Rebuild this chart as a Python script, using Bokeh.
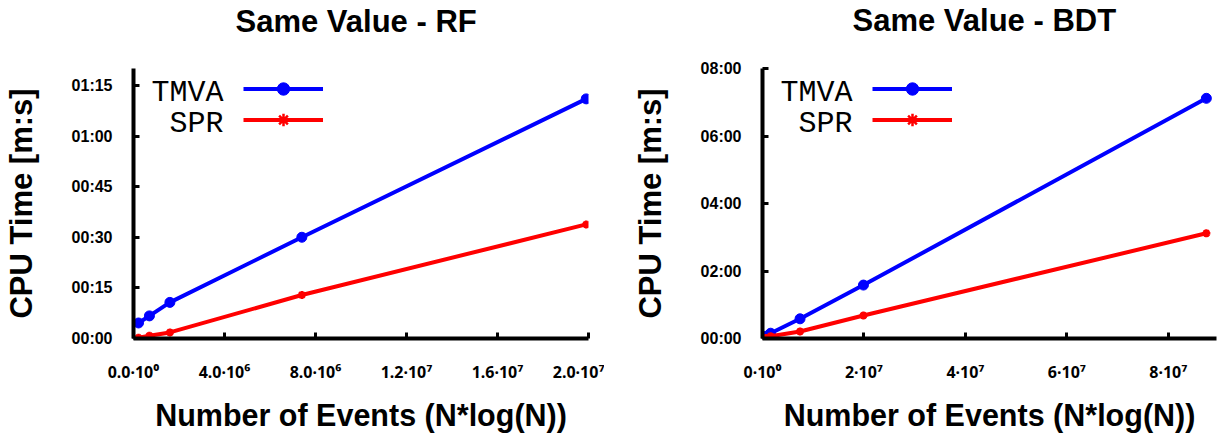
from bokeh.plotting import figure
from bokeh.models import Range1d, FixedTicker, Legend, LegendItem, Label, Title
from bokeh.layouts import row
from bokeh.embed import file_html
from bokeh.resources import INLINE

# ---------------- data ----------------
rf_title = "Same Value - RF"
rf_x = [0.22e6, 0.70e6, 1.6e6, 7.4e6, 19.9e6]          # N*log(N)
rf_tmva = [4.6, 6.7, 10.7, 30.0, 71.0]                  # seconds
rf_spr = [0.2, 0.8, 1.8, 12.9, 33.8]                    # seconds
rf_xticks = [0, 4e6, 8e6, 1.2e7, 1.6e7, 2.0e7]
rf_xlabels = ["0.0·10⁰", "4.0·10⁶", "8.0·10⁶", "1.2·10⁷", "1.6·10⁷", "2.0·10⁷"]
rf_yticks = [0, 15, 30, 45, 60, 75]
rf_ylabels = ["00:00", "00:15", "00:30", "00:45", "01:00", "01:15"]

bdt_title = "Same Value - BDT"
bdt_x = [0.22e6, 0.70e6, 1.6e6, 7.4e6, 19.9e6, 87.5e6]
bdt_tmva = [1.5, 4.0, 9.4, 35.0, 95.0, 427.0]
bdt_spr = [0.3, 1.0, 4.0, 12.5, 41.0, 187.0]
bdt_xticks = [0, 2e7, 4e7, 6e7, 8e7]
bdt_xlabels = ["0·10⁰", "2·10⁷", "4·10⁷", "6·10⁷", "8·10⁷"]
bdt_yticks = [0, 120, 240, 360, 480]
bdt_ylabels = ["00:00", "02:00", "04:00", "06:00", "08:00"]

series_names = ["TMVA", "SPR"]
x_label = "Number of Events (N*log(N))"
y_label = "CPU Time [m:s]"

BLUE = "#0000ff"
RED = "#ff0000"
SANS = "Liberation Sans"
MONO = "Liberation Mono"


def make_panel(title, xs, tmva, spr, xticks, xlabels, yticks, ylabels,
               xend, yend, width, border_left, border_right, title_offset, spacer_standoff):
    p = figure(width=width, height=438, output_backend="svg", toolbar_location=None,
               x_range=Range1d(0, xend), y_range=Range1d(0, yend),
               min_border_left=border_left, min_border_right=border_right,
               min_border_top=67, min_border_bottom=100)
    p.outline_line_color = None
    p.grid.visible = False
    p.background_fill_color = "white"
    p.border_fill_color = "white"

    # spacer (closest to the frame) followed by the real title above it
    p.add_layout(Title(text=" ", text_font_size="18px", standoff=spacer_standoff), "above")
    p.add_layout(Title(text=title, text_font=SANS, text_font_style="bold",
                       text_font_size="31px", text_color="black", align="left",
                       offset=title_offset, standoff=0), "above")

    for ax in (p.xaxis[0], p.yaxis[0]):
        ax.axis_line_width = 4
        ax.axis_line_color = "black"
        ax.major_tick_line_width = 3
        ax.major_tick_in = 6
        ax.major_tick_out = 0
        ax.minor_tick_line_color = None
        ax.major_label_text_font = SANS
        ax.major_label_text_font_style = "bold"
        ax.major_label_text_font_size = "16px"
        ax.major_label_text_color = "black"
        ax.axis_label_text_font = SANS
        ax.axis_label_text_font_style = "bold"
        ax.axis_label_text_color = "black"

    p.xaxis.ticker = FixedTicker(ticks=xticks)
    p.xaxis.major_label_overrides = {t: l for t, l in zip(xticks, xlabels)}
    p.xaxis.major_label_text_font = "Noto Sans"
    p.xaxis.major_label_standoff = 22
    p.xaxis.axis_label = x_label
    p.xaxis.axis_label_text_font_size = "30.5px"
    p.xaxis.axis_label_standoff = 12

    p.yaxis.ticker = FixedTicker(ticks=yticks)
    p.yaxis.major_label_overrides = {t: l for t, l in zip(yticks, ylabels)}
    p.yaxis.major_label_standoff = 21
    p.yaxis.axis_label = y_label
    p.yaxis.axis_label_text_font_size = "31px"
    p.yaxis.axis_label_standoff = 30

    l1 = p.line(xs, tmva, line_color=BLUE, line_width=4)
    s1 = p.scatter(xs, tmva, marker="circle", size=10, fill_color=BLUE, line_color=BLUE)
    l2 = p.line(xs, spr, line_color=RED, line_width=4)
    s2 = p.scatter(xs, spr, marker="asterisk", size=8, line_color=RED, line_width=2.5)

    legend = Legend(items=[LegendItem(label=" ", renderers=[l1, s1]),
                           LegendItem(label=" ", renderers=[l2, s2])],
                    location=(110, 203.5), glyph_width=80, glyph_height=31,
                    label_width=0, label_height=0, label_standoff=0,
                    label_text_font_size="1px", spacing=0, padding=0, margin=0,
                    border_line_color=None, background_fill_alpha=0)
    p.add_layout(legend, "center")

    for name, yb in zip(series_names, [246, 215]):
        p.add_layout(Label(x=90, y=yb, x_units="screen", y_units="screen", text=name,
                           text_font=MONO, text_font_size="30px", text_align="right",
                           text_baseline="alphabetic", text_color="black"))
    return p


p1 = make_panel(rf_title, rf_x, rf_tmva, rf_spr, rf_xticks, rf_xlabels, rf_yticks, rf_ylabels,
                2.0e7, 80, 604, 133, 16, 102, 8)
p2 = make_panel(bdt_title, bdt_x, bdt_tmva, bdt_spr, bdt_xticks, bdt_xlabels, bdt_yticks, bdt_ylabels,
                8.95e7, 480, 620, 158, 8, 90, 9)

layout = row(p1, p2)
open("out.html", "w").write(file_html(layout, INLINE))
